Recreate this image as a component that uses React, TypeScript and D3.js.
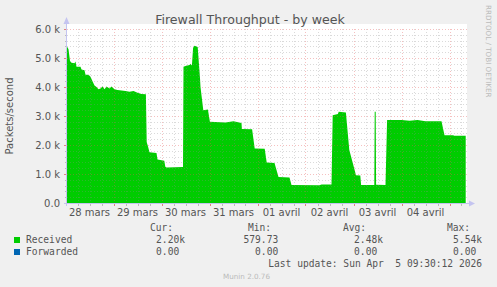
import React from "react";
import * as d3 from "d3";

// hours since 2026-03-28 00:00 UTC, and packets/second received
const hours = [
  0.75, 1.5, 2.25, 3.0, 4.5, 5.0, 5.5, 7.5, 8.0, 9.5, 10.0, 11.5, 12.5, 13.5, 14.5, 15.5,
  16.5, 17.5, 18.5, 19.5, 20.5, 22, 23, 24.5, 26, 28, 30, 32, 34, 36, 38, 40.2,
  40.6, 41.25, 42, 45.5, 46, 49.4, 49.9, 50.5, 58.75, 59.0, 60, 62, 62.5, 63.2,
  63.8, 64.5, 66.1, 67.25, 67.5, 68.9, 71.2, 72.2, 80, 84, 88, 88.2, 93.3, 94.6,
  99.6, 100.6, 104.5, 106.5, 112, 113, 127, 128, 133.0, 133.6, 136.2, 136.6, 140.2, 141.9,
  144.8, 145.2, 147.4, 147.8, 154.4, 154.6, 155.1, 155.3, 160.0, 160.8, 168, 172, 176, 180,
  188.0, 189.5, 194, 194.2, 200.1,
];
const received = [
  5400, 5300, 4900, 4840, 4820, 4880, 4700, 4700, 4600, 4580, 4420, 4420, 4350, 4200, 4050, 4000,
  3920, 3950, 4020, 3920, 4020, 3950, 4020, 3920, 3900, 3880, 3860, 3840, 3860, 3800, 3760, 3750,
  2100, 1950, 1750, 1720, 1500, 1460, 1250, 1220, 1240, 4700, 4720, 4760, 4800, 4740,
  5350, 5420, 5380, 4300, 4000, 3200, 3220, 2800, 2780, 2820, 2760, 2550, 2540, 1880,
  1870, 1400, 1380, 900, 880, 620, 610, 640, 640, 3030, 3070, 3150, 3120, 1830,
  1080, 960, 950, 620, 620, 3150, 3150, 630, 620, 2860, 2860, 2840, 2860, 2820,
  2820, 2340, 2340, 2320, 2320,
];

const dayLabels = ["28 mars", "29 mars", "30 mars", "31 mars", "01 avril", "02 avril", "03 avril", "04 avril"];
const yTicks = [0, 1000, 2000, 3000, 4000, 5000, 6000];
const yTickLabels = ["0.0", "1.0 k", "2.0 k", "3.0 k", "4.0 k", "5.0 k", "6.0 k"];

const legendNames = ["Received", "Forwarded"];
const legendColors = ["#00cc00", "#0066b3"];
const statHeaders = ["Cur:", "Min:", "Avg:", "Max:"];
const statValues = [
  ["  2.20k", "579.73 ", "  2.48k", "  5.54k"],
  ["  0.00 ", "  0.00 ", "  0.00 ", "  0.00 "],
];

const BASE = Date.UTC(2026, 2, 28, 0, 0, 0);
const H = 3600 * 1000;

export default function App() {
  const W = 497;
  const HGT = 287;
  const left = 67, right = 467, top = 29, bottom = 203;
  const start = new Date(BASE + 0.75 * H);
  const end = new Date(BASE + 200.75 * H);
  const x = d3.scaleUtc().domain([start, end]).range([left, right]);
  const y = d3.scaleLinear().domain([0, 6000]).range([bottom, top]);

  const data = hours.map((h, i) => ({ t: new Date(BASE + h * H), v: received[i] }));
  const area = d3
    .area<{ t: Date; v: number }>()
    .x((d) => x(d.t))
    .y0(y(0))
    .y1((d) => y(d.v));

  const minorH = d3.range(0, 6001, 200).filter((v) => v % 1000 !== 0);
  const sixHours = d3.utcHour.every(6)!.range(start, end).filter((d) => d.getUTCHours() !== 0);
  const midnights = d3.utcDay.range(start, end);
  const noons = dayLabels.map((_, i) => new Date(BASE + (12 + 24 * i) * H));

  const mono = "'DejaVu Sans Mono', monospace";
  const sans = "'DejaVu Sans', sans-serif";
  const cw = 5.78;
  const colRight = [185, 284, 383, 482];
  const headX = [150, 248, 343, 447];

  return (
    <svg width={W} height={HGT} style={{ position: "absolute", left: 0, top: 0 }}>
      <rect x={0} y={0} width={W} height={HGT} fill="#f0f0f0" />
      <rect x={left} y={top - 5} width={right - left} height={bottom - top + 5} fill="#ffffff" />
      <path d={area(data) || ""} fill="#00cc00" />
      {/* minor grid */}
      <g stroke="rgba(140,140,140,0.32)" strokeWidth={1} strokeDasharray="1,2">
        {minorH.map((v) => (
          <line key={"mh" + v} x1={left} x2={right} y1={Math.round(y(v)) + 0.5} y2={Math.round(y(v)) + 0.5} />
        ))}
        {sixHours.map((d, i) => (
          <line key={"mv" + i} x1={Math.round(x(d)) + 0.5} x2={Math.round(x(d)) + 0.5} y1={top} y2={bottom} />
        ))}
      </g>
      {/* major grid */}
      <g stroke="rgba(230,90,90,0.38)" strokeWidth={1} strokeDasharray="1,2">
        {yTicks.slice(1).map((v) => (
          <line key={"Mh" + v} x1={left} x2={right} y1={Math.round(y(v)) + 0.5} y2={Math.round(y(v)) + 0.5} />
        ))}
        {midnights.map((d, i) => (
          <line key={"Mv" + i} x1={Math.round(x(d)) + 0.5} x2={Math.round(x(d)) + 0.5} y1={top} y2={bottom} />
        ))}
      </g>
      {/* x ticks */}
      <g strokeWidth={1}>
        {sixHours.map((d, i) => (
          <line key={"xt" + i} x1={Math.round(x(d)) + 0.5} x2={Math.round(x(d)) + 0.5} y1={bottom} y2={bottom + 3} stroke="#bbbbbb" />
        ))}
        {midnights.map((d, i) => (
          <line key={"xT" + i} x1={Math.round(x(d)) + 0.5} x2={Math.round(x(d)) + 0.5} y1={bottom} y2={bottom + 3} stroke="#e08080" />
        ))}
        {minorH.map((v) => (
          <line key={"yt" + v} x1={left - 2} x2={left} y1={Math.round(y(v)) + 0.5} y2={Math.round(y(v)) + 0.5} stroke="#bbbbbb" />
        ))}
        {yTicks.map((v) => (
          <line key={"yT" + v} x1={left - 3} x2={left} y1={Math.round(y(v)) + 0.5} y2={Math.round(y(v)) + 0.5} stroke="#e08080" />
        ))}
      </g>
      {/* axes */}
      <line x1={left - 0.5} x2={left - 0.5} y1={bottom + 3} y2={top - 6} stroke="#c4c4f0" strokeWidth={1} />
      <line x1={left - 3} x2={right + 3} y1={bottom + 0.5} y2={bottom + 0.5} stroke="#c4c4f0" strokeWidth={1} />
      <path d={`M${left - 3.5},${top - 5} L${left - 0.5},${top - 12} L${left + 2.5},${top - 5} Z`} fill="#c4c4f0" />
      <path d={`M${right + 2},${bottom - 2.5} L${right + 8},${bottom + 0.5} L${right + 2},${bottom + 3.5} Z`} fill="#c4c4f0" />
      {/* y labels */}
      {yTicks.map((v, i) => (
        <text key={"yl" + v} x={60} y={y(v) + 3.5} textAnchor="end" fontFamily={sans} fontSize={10} fill="#555555">
          {yTickLabels[i]}
        </text>
      ))}
      {/* x labels */}
      {noons.map((d, i) => (
        <text key={"xl" + i} x={x(d)} y={216} textAnchor="middle" fontFamily={sans} fontSize={10} fill="#555555">
          {dayLabels[i]}
        </text>
      ))}
      {/* title */}
      <text x={250} y={24} textAnchor="middle" fontFamily={sans} fontSize={12.6} fill="#555555">
        Firewall Throughput - by week
      </text>
      <text transform="translate(12.5,116) rotate(-90)" textAnchor="middle" fontFamily={sans} fontSize={10} fill="#555555">
        Packets/second
      </text>
      <text transform="translate(485.5,5) rotate(90)" textAnchor="start" fontFamily={sans} fontSize={7.2} fill="#bbbbbb">
        RRDTOOL / TOBI OETIKER
      </text>
      {/* legend */}
      {statHeaders.map((h, i) => (
        <text key={"sh" + i} x={headX[i]} y={230.5} fontFamily={mono} fontSize={9.6} fill="#555555" style={{ whiteSpace: "pre" }}>
          {h}
        </text>
      ))}
      {legendNames.map((n, r) => (
        <g key={"lg" + r}>
          <rect x={14} y={237 + r * 12} width={6} height={6} fill={legendColors[r]} />
          <text x={26} y={243 + r * 12} fontFamily={mono} fontSize={9.6} fill="#555555">
            {n}
          </text>
          {statValues[r].map((s, c) => (
            <text key={"sv" + c} x={colRight[c] - s.length * cw} y={243 + r * 12} fontFamily={mono} fontSize={9.6} fill="#555555" style={{ whiteSpace: "pre" }}>
              {s}
            </text>
          ))}
        </g>
      ))}
      <text x={482} y={267} textAnchor="end" fontFamily={mono} fontSize={9.6} fill="#555555" style={{ whiteSpace: "pre" }}>
        {"Last update: Sun Apr  5 09:30:12 2026"}
      </text>
      <text x={223} y={279} fontFamily={sans} fontSize={7.2} fill="#bbbbbb">
        Munin 2.0.76
      </text>
    </svg>
  );
}
